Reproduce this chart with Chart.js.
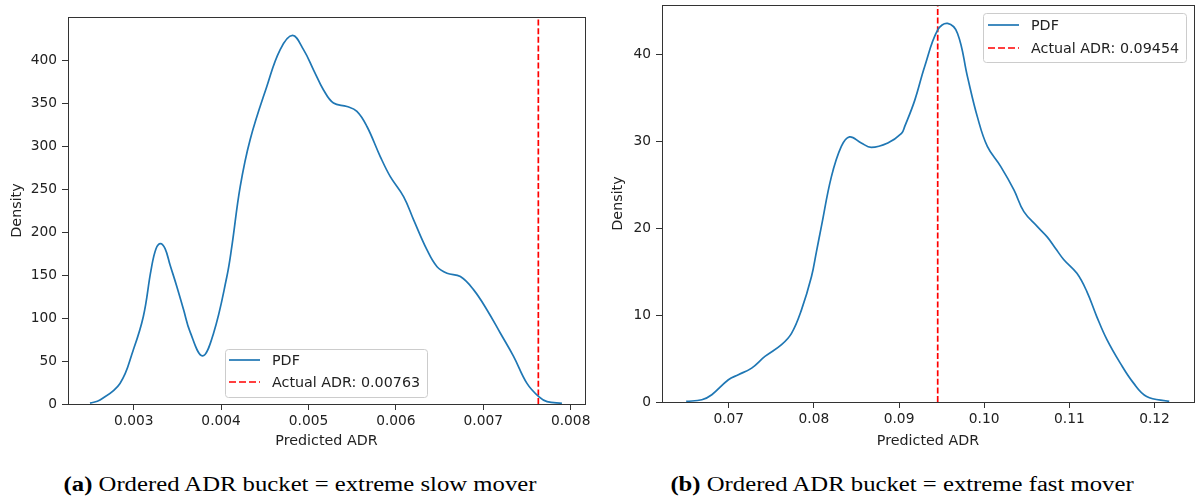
<!DOCTYPE html>
<html>
<head>
<meta charset="utf-8">
<script src="https://cdn.jsdelivr.net/npm/chart.js@4.4.1/dist/chart.umd.min.js"></script>
<style>
  html, body { margin: 0; padding: 0; background: #fff; }
  body { width: 1197px; height: 499px; position: relative; overflow: hidden; }
  canvas { position: absolute; top: 0; }
  #chartSlow { left: 0; }
  #chartFast { left: 598px; }
  .cap {
    position: absolute; top: 474px; width: 600px; text-align: center;
    font-family: "Liberation Serif", "DejaVu Serif", serif; font-size: 20.5px;
    line-height: 21px; color: #000; white-space: nowrap;
    transform: scaleX(1.205); transform-origin: 50% 50%;
  }
</style>
</head>
<body>
<canvas id="chartSlow" width="598" height="460"></canvas>
<canvas id="chartFast" width="599" height="460"></canvas>
<div class="cap" style="left:0"><b>(a)</b> Ordered ADR bucket = extreme slow mover</div>
<div class="cap" style="left:602px"><b>(b)</b> Ordered ADR bucket = extreme fast mover</div>

<script>
// ---- (a) extreme slow mover: KDE of predicted ADR ----
const slowAdr = [0.0025, 0.002614, 0.002843, 0.002995, 0.00311, 0.003198, 0.003255, 0.003307,
  0.003359, 0.003416, 0.003493, 0.00357, 0.003645, 0.003786, 0.003912, 0.004065, 0.004122, 0.004218,
  0.004332, 0.004523, 0.004676, 0.004817, 0.004943, 0.005057, 0.005172, 0.005286, 0.00544,
  0.005554, 0.005669, 0.005821, 0.005936, 0.006088, 0.006203, 0.006356, 0.006471, 0.006585,
  0.006738, 0.00689, 0.007043, 0.007196, 0.007348, 0.0075, 0.007635, 0.00773, 0.0079];
const slowDensity = [1, 4.7, 24, 63, 102, 156, 181, 187,
  181, 162, 137, 110, 84, 56, 82, 148, 183, 253,
  308, 370, 413, 429.5, 413, 389.5, 366, 350.7, 346.7,
  341, 323.4, 288.4, 265, 241.7, 214.6, 179.6, 160, 152.4,
  148.5, 133, 109.6, 82.4, 55.2, 24, 8.5, 2.7, 0.8];
const slowActual = 0.00763;
const slowXTicks = [0.003, 0.004, 0.005, 0.006, 0.007, 0.008];
const slowXLabels = ['0.003', '0.004', '0.005', '0.006', '0.007', '0.008'];
const slowYTicks = [0, 50, 100, 150, 200, 250, 300, 350, 400];
const slowYLabels = ['0', '50', '100', '150', '200', '250', '300', '350', '400'];
const slowXRange = [0.002248, 0.008164];
const slowYRange = [0, 451];

// ---- (b) extreme fast mover: KDE of predicted ADR ----
const fastAdr = [0.065, 0.06684, 0.06801, 0.06996, 0.07113, 0.07269, 0.07425, 0.0762, 0.07737,
  0.07854, 0.07971, 0.0803, 0.08088, 0.08205, 0.08322, 0.08419, 0.08556, 0.08673, 0.08868,
  0.09029, 0.09067, 0.09184, 0.09301, 0.09454, 0.0957, 0.09687, 0.09804, 0.0992, 0.10037,
  0.10193, 0.10349, 0.10466, 0.10622, 0.10739, 0.10836, 0.10933, 0.11089, 0.11206, 0.11323,
  0.1144, 0.11596, 0.11752, 0.11908, 0.12173];
const fastDensity = [0.07, 0.26, 0.84, 2.56, 3.14, 3.9, 5.24, 6.6, 7.9,
  10.6, 14.4, 17.3, 20.2, 25.9, 29.4, 30.5, 29.8, 29.3, 29.8,
  30.9, 31.7, 34.7, 38.6, 42.8, 43.55, 42.4, 37.4, 32.8, 29.4,
  27.1, 24.4, 21.9, 20.2, 19.0, 17.7, 16.4, 14.8, 12.7, 9.8,
  7.2, 4.5, 2.2, 0.64, 0.07];
const fastActual = 0.09454;
const fastXTicks = [0.07, 0.08, 0.09, 0.10, 0.11, 0.12];
const fastXLabels = ['0.07', '0.08', '0.09', '0.10', '0.11', '0.12'];
const fastYTicks = [0, 10, 20, 30, 40];
const fastYLabels = ['0', '10', '20', '30', '40'];
const fastXRange = [0.06216, 0.12464];
const fastYRange = [0, 45.67];

Chart.defaults.font.family = '"DejaVu Sans", sans-serif';
Chart.defaults.font.size = 14;
Chart.defaults.color = '#222';

const INK = '#333333';
const TICK_FONT = { size: 13.8 };
const LABEL_FONT = { size: 14.3 };

// Box around the plot area, drawn above the curves like axes spines.
const frame = {
  id: 'frame',
  afterDatasetsDraw(chart) {
    const { ctx, chartArea: a } = chart;
    ctx.save();
    ctx.strokeStyle = INK;
    ctx.lineWidth = 1;
    ctx.strokeRect(Math.round(a.left) + 0.5, Math.round(a.top) + 0.5,
      Math.round(a.right - a.left), Math.round(a.bottom - a.top));
    ctx.restore();
  }
};

// Framed legend listing each dataset with its line sample.
const boxLegend = {
  id: 'boxLegend',
  afterDatasetsDraw(chart, args, o) {
    const ctx = chart.ctx;
    const ds = chart.data.datasets;
    ctx.save();
    ctx.font = '14.3px "DejaVu Sans"';
    const textW = Math.max(...ds.map(d => ctx.measureText(d.label).width));
    const w = Math.round(o.padL + o.sample + o.gap + textW + o.padR);
    const x = Math.round(o.anchor === 'right' ? o.x - w : o.x);
    const y = o.y;
    ctx.beginPath();
    ctx.roundRect(x + 0.5, y + 0.5, w, o.height, 3);
    ctx.fillStyle = 'rgba(255,255,255,0.8)';
    ctx.fill();
    ctx.strokeStyle = '#cccccc';
    ctx.lineWidth = 1;
    ctx.stroke();
    ds.forEach((d, i) => {
      const cy = y + o.rowTop + i * o.rowGap;
      ctx.beginPath();
      ctx.setLineDash(d.borderDash ? [7, 3] : []);
      ctx.strokeStyle = d.borderColor;
      ctx.lineWidth = d.borderWidth;
      ctx.moveTo(x + o.padL, cy);
      ctx.lineTo(x + o.padL + o.sample, cy);
      ctx.stroke();
      ctx.setLineDash([]);
      ctx.fillStyle = '#222';
      ctx.textBaseline = 'middle';
      ctx.textAlign = 'left';
      ctx.fillText(d.label, x + o.padL + o.sample + o.gap, cy + 1);
    });
    ctx.restore();
  }
};

function kdeChart(canvasId, p) {
  const curve = p.adr.map((v, i) => ({ x: v, y: p.density[i] }));
  const marker = [{ x: p.actual, y: p.yRange[0] }, { x: p.actual, y: p.yRange[1] }];
  return new Chart(document.getElementById(canvasId), {
    type: 'scatter',
    data: {
      datasets: [
        {
          label: 'PDF', data: curve, showLine: true, pointRadius: 0,
          borderColor: '#1f77b4', borderWidth: 1.7, tension: 0.4,
          cubicInterpolationMode: 'default'
        },
        {
          label: 'Actual ADR: ' + p.actual, data: marker, showLine: true, pointRadius: 0,
          borderColor: '#ff0000', borderWidth: 1.7, borderDash: [6, 2.6]
        }
      ]
    },
    options: {
      responsive: false,
      animation: false,
      events: [],
      layout: { padding: p.padding },
      plugins: { legend: { display: false }, tooltip: { enabled: false }, boxLegend: p.legend },
      scales: {
        x: {
          type: 'linear', min: p.xRange[0], max: p.xRange[1],
          afterBuildTicks: s => { s.ticks = p.xTicks.map(v => ({ value: v })); },
          afterFit: s => { s.height = p.xAxisHeight; s.paddingLeft = 0; s.paddingRight = 0; },
          ticks: { callback: (v, i) => p.xLabels[i], padding: 3, maxRotation: 0, color: '#222', font: TICK_FONT },
          grid: { drawOnChartArea: false, drawTicks: true, tickLength: 6, color: INK },
          border: { display: false },
          title: { display: true, text: 'Predicted ADR', padding: { top: 0, bottom: 10 }, color: '#222', font: LABEL_FONT }
        },
        y: {
          type: 'linear', min: p.yRange[0], max: p.yRange[1],
          afterBuildTicks: s => { s.ticks = p.yTicks.map(v => ({ value: v })); },
          afterFit: s => { s.width = p.yAxisWidth; s.paddingTop = 0; s.paddingBottom = 0; },
          ticks: { callback: (v, i) => p.yLabels[i], padding: 5, color: '#222', font: TICK_FONT },
          grid: { drawOnChartArea: false, drawTicks: true, tickLength: 6, color: INK },
          border: { display: false },
          title: { display: true, text: 'Density', padding: { top: p.yTitlePad, bottom: 0 }, color: '#222', font: LABEL_FONT }
        }
      }
    },
    plugins: [frame, boxLegend]
  });
}

kdeChart('chartSlow', {
  adr: slowAdr, density: slowDensity, actual: slowActual,
  xTicks: slowXTicks, xLabels: slowXLabels, yTicks: slowYTicks, yLabels: slowYLabels,
  xRange: slowXRange, yRange: slowYRange,
  padding: { top: 17, right: 13, left: 0, bottom: 0 },
  xAxisHeight: 56, yAxisWidth: 68, yTitlePad: 9,
  legend: { x: 225, y: 349, anchor: 'left', padL: 4, sample: 31, gap: 12, padR: 7, height: 48, rowTop: 11, rowGap: 22 }
});

kdeChart('chartFast', {
  adr: fastAdr, density: fastDensity, actual: fastActual,
  xTicks: fastXTicks, xLabels: fastXLabels, yTicks: fastYTicks, yLabels: fastYLabels,
  xRange: fastXRange, yRange: fastYRange,
  padding: { top: 5, right: 3, left: 0, bottom: 0 },
  xAxisHeight: 58, yAxisWidth: 64, yTitlePad: 12,
  legend: { x: 588, y: 13, anchor: 'right', padL: 5, sample: 31, gap: 12, padR: 7, height: 49, rowTop: 12, rowGap: 23 }
});
</script>
</body>
</html>
